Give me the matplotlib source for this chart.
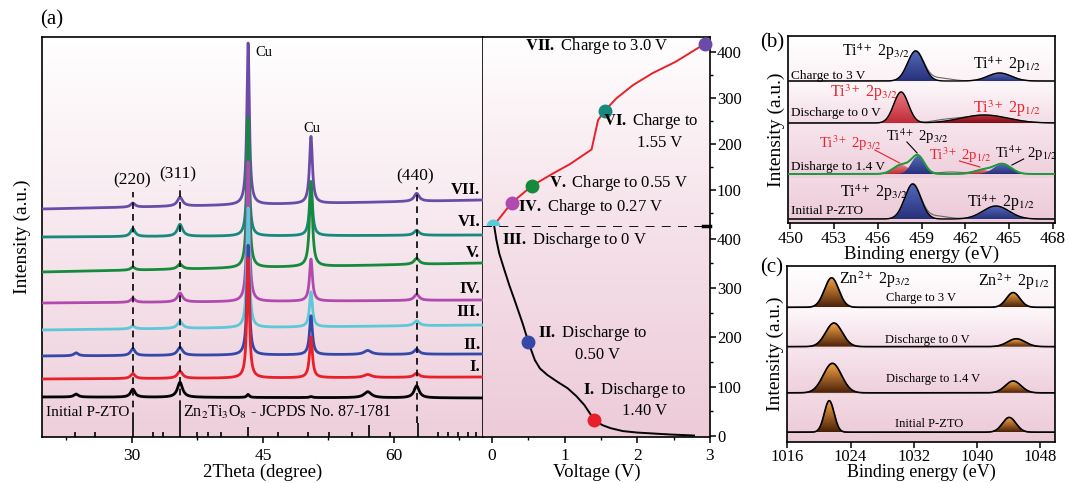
import numpy as np
import matplotlib
matplotlib.use('Agg')
import matplotlib.pyplot as plt
from matplotlib.colors import LinearSegmentedColormap
from matplotlib.ticker import MultipleLocator

plt.rcParams['font.family'] = ['Liberation Serif', 'DejaVu Serif']
plt.rcParams['mathtext.fontset'] = 'stix'

# ---------------- (a) XRD ----------------
xrd_names = ['Initial P-ZTO', 'I.', 'II.', 'III.', 'IV.', 'V.', 'VI.', 'VII.']
xrd_base_left = [40, 58, 81, 107, 134, 165, 200, 228]
xrd_base_right = [39, 60, 83, 112, 137, 174, 202, 237]
xrd_peak_pos = [23.6, 30.1, 35.5, 43.3, 50.5, 57.0, 62.6]
xrd_peak_hwhm = [0.3, 0.3, 0.35, 0.17, 0.2, 0.5, 0.35]
h_init = [3, 8, 15, 3, 1, 6, 12]
h_I = [0, 5, 7, 120, 41, 3, 4]
h_II = [3, 7, 8, 110, 39, 4, 5]
h_III = [0, 3, 7, 120, 35, 0, 5]
h_IV = [0, 4, 9, 140, 42, 0, 6]
h_V = [0, 3, 5, 150, 85, 0, 6]
h_VI = [0, 8, 12, 110, 53, 0, 5]
h_VII = [0, 4, 9, 162, 67, 0, 8]
xrd_heights = [h_init, h_I, h_II, h_III, h_IV, h_V, h_VI, h_VII]
jcpds_pos = [23.5, 25.8, 30.1, 32.4, 33.6, 35.5, 37.5, 38.7, 40.2, 43.3, 46.7,
             50.2, 52.6, 55.2, 57.2, 59.5, 62.7, 65.1, 66.2, 67.3, 68.5, 69.4]
jcpds_int = [5, 5, 18, 5, 5, 30, 5, 5, 5, 10, 5, 5, 5, 5, 12, 5, 14, 5, 5, 5, 5, 5]
hkl_labels = ['(220)', '(311)', '(440)']
hkl_pos = [30.1, 35.5, 62.6]

# ---------------- (a) charge / discharge ----------------
charge_v = [0.02, 0.27, 0.55, 0.84, 1.07, 1.37, 1.42, 1.46, 1.55, 1.71, 1.94, 2.21, 2.53, 2.92]
charge_cap = [22, 72, 109, 136, 156, 188, 224, 252, 272, 299, 328, 354, 379, 417]
discharge_v = [0.03, 0.06, 0.10, 0.17, 0.24, 0.31, 0.42, 0.50, 0.55, 0.59, 0.66, 0.76, 0.90,
               1.04, 1.16, 1.27, 1.41, 1.52, 1.63, 1.80, 2.00, 2.46, 2.78]
discharge_cap = [426, 398, 370, 337, 305, 276, 229, 191, 170, 154, 137, 124, 110,
                 97, 81, 63, 32, 22, 16, 10, 7, 3, 1]
state_v = [1.40, 0.50, 0.02, 0.27, 0.55, 1.55, 2.93]
state_cap = [32, 191, 22, 72, 109, 272, 417]

# ---------------- (b) Ti 2p XPS ----------------
b_names = ['Charge to 3 V', 'Discharge to 0 V', 'Disharge to 1.4 V', 'Initial P-ZTO']
b_base = [142, 100, 49, 4]
b_pos = [[458.6, 464.35], [457.6, 463.3], [457.6, 458.75, 463.2, 464.55], [458.4, 464.1]]
b_h = [[30, 8], [31, 8], [9, 18, 4, 10], [35, 13]]
b_sig = [[0.55, 0.8], [0.5, 1.6], [0.55, 0.45, 0.6, 0.6], [0.55, 0.9]]
b_kind = [['4', '4'], ['3', '3'], ['3', '4', '3', '4'], ['4', '4']]
b_shoulder_pos = [460.2, 460.5, 461.0, 460.0]
b_shoulder_h = [3, 2, 2, 3]

# ---------------- (c) Zn 2p XPS ----------------
c_names = ['Charge to 3 V', 'Discharge to 0 V', 'Discharge to 1.4 V', 'Initial P-ZTO']
c_base = [137, 97, 50, 10]
c_pos32 = [1021.6, 1021.9, 1021.7, 1021.3]
c_h32 = [30, 24, 30, 32]
c_s32 = [0.9, 1.05, 1.15, 0.62]
c_pos12 = [1044.6, 1045.0, 1044.6, 1044.1]
c_h12 = [15, 8, 12, 15]
c_s12 = [0.85, 1.1, 1.0, 0.85]

xrd_colors = ['black', '#e8202a', '#3548a8', '#5cc8d8', '#b04aae', '#168a3c', '#18887e', '#6a4ca8']
state_colors = ['#e8202a', '#3548a8', '#5cc8d8', '#b04aae', '#168a3c', '#18887e', '#6a4ca8']
PINK = '#eecfdc'


def lorentz(x, p, h, w):
    return h * w ** 2 / ((x - p) ** 2 + w ** 2)


def gauss(x, p, h, s):
    return h * np.exp(-0.5 * ((x - p) / s) ** 2)


def vgrad(ax, x0, x1, y0, y1, c_top, c_bot):
    cmap = LinearSegmentedColormap.from_list('bg', [c_bot, c_top])
    ax.imshow(np.linspace(0, 1, 256).reshape(-1, 1), extent=[x0, x1, y0, y1],
              origin='lower', cmap=cmap, aspect='auto', zorder=0)


def grad_fill(ax, x, y, base, c_top, c_bot, z=2):
    poly = ax.fill_between(x, base, y, facecolor='none', edgecolor='none', zorder=z)
    cmap = LinearSegmentedColormap.from_list('pk', [c_bot, c_top])
    im = ax.imshow(np.linspace(0, 1, 256).reshape(-1, 1),
                   extent=[x[0], x[-1], base, y.max()],
                   origin='lower', cmap=cmap, aspect='auto', zorder=z)
    im.set_clip_path(poly.get_paths()[0], transform=ax.transData)


fig = plt.figure(figsize=(10.69, 4.83), dpi=100)
W, H = 1069, 483


def box(x0, y0, x1, y1):
    return [x0 / W, 1 - y1 / H, (x1 - x0) / W, (y1 - y0) / H]


ax_x = fig.add_axes(box(42, 37, 483, 437))
ax_u = fig.add_axes(box(483, 37, 710, 226))
ax_l = fig.add_axes(box(483, 226, 710, 437))
ax_b = fig.add_axes(box(788, 36, 1055, 223))
ax_c = fig.add_axes(box(787, 266, 1055, 442))

for ax in [ax_x, ax_u, ax_l, ax_b, ax_c]:
    for s in ax.spines.values():
        s.set_linewidth(1.2)
    ax.tick_params(which='major', length=4, width=1.1, labelsize=12.5, direction='out')
    ax.tick_params(which='minor', length=2.5, width=1.0, direction='out')

# ---- XRD ----
xl = (19.7, 70.2)
vgrad(ax_x, xl[0], xl[1], 0, 400, 'white', PINK)
tt = np.linspace(xl[0], xl[1], 3000)
for i in reversed(range(len(xrd_names))):
    y = xrd_base_left[i] + (xrd_base_right[i] - xrd_base_left[i]) * (tt - xl[0]) / (xl[1] - xl[0])
    for p, h, w in zip(xrd_peak_pos, xrd_heights[i], xrd_peak_hwhm):
        y = y + lorentz(tt, p, h, w)
    ax_x.plot(tt, y, color=xrd_colors[i], lw=2.0, zorder=3 + len(xrd_names) - i)
ax_x.vlines(jcpds_pos, 0, jcpds_int, color='black', lw=1.2, zorder=12)
ax_x.vlines(hkl_pos, [18, 30, 14], [245, 252, 250], color='black', lw=1.2,
            linestyles=(0, (4, 3)), zorder=13)
for lab, p, yy in zip(hkl_labels, [30.0, 35.2, 62.4], [257, 263, 261]):
    ax_x.text(p, yy, lab, ha='center', va='center', fontsize=12.5, zorder=14)
ax_x.text(44.1, 384, 'Cu', ha='left', va='center', fontsize=10.5, zorder=14)
ax_x.text(49.6, 309, 'Cu', ha='left', va='center', fontsize=10.5, zorder=14)
for lab, yy in zip(xrd_names[1:], [70, 92, 125, 148, 184, 215, 247]):
    ax_x.text(69.9, yy, lab, ha='right', va='center', fontsize=12, fontweight='bold', zorder=14)
ax_x.text(20.2, 25, 'Initial P-ZTO', ha='left', va='center', fontsize=11, zorder=14)
ax_x.text(35.9, 25, 'Zn$_2$Ti$_3$O$_8$ - JCPDS No. 87-1781', ha='left', va='center',
          fontsize=11.5, zorder=14)
ax_x.set_xlim(*xl)
ax_x.set_ylim(0, 400)
ax_x.set_yticks([])
ax_x.set_xticks([30, 45, 60])
ax_x.xaxis.set_minor_locator(MultipleLocator(7.5))
ax_x.tick_params(axis='x', pad=4)
ax_x.set_xlabel('2Theta (degree)', fontsize=13.5, labelpad=0)
ax_x.set_ylabel('Intensity (a.u.)', fontsize=14)
ax_x.yaxis.set_label_coords(-0.025, 0.5)

# ---- charge / discharge ----
vl = (-0.124, 3.0)
uy = (21.7, 432.6)
ly = (-2, 426)
vgrad(ax_u, vl[0], vl[1], uy[0], uy[1], 'white', '#f5e1e9')
vgrad(ax_l, vl[0], vl[1], ly[0], ly[1], '#f5e1e9', '#edcbd9')
ax_u.plot(charge_v, charge_cap, color='#e8202a', lw=1.4, zorder=3)
ax_l.plot(discharge_v, discharge_cap, color='black', lw=1.4, zorder=3)
for k in range(len(state_v)):
    target = ax_l if k < 2 else ax_u
    target.plot(state_v[k], state_cap[k], 'o', ms=9, color=state_colors[k],
                zorder=6, clip_on=False)
ax_l.axhline(ly[1] - 0.5, color='black', lw=1.3, ls=(0, (5, 4)), zorder=4)
ax_l.plot([2.9, 3.0], [ly[1] - 0.5, ly[1] - 0.5], color='black', lw=2.5, zorder=5, clip_on=False)

ann = dict(fontsize=12, va='center', zorder=8)
ax_u.text(0.45, 412, r'$\mathbf{VII.}$ Charge to 3.0 V', ha='left', **ann)
ax_u.text(1.53, 250, r'$\mathbf{VI.}$ Charge to', ha='left', **ann)
ax_u.text(1.99, 202, '1.55 V', ha='left', **ann)
ax_u.text(0.79, 115, r'$\mathbf{V.}$ Charge to 0.55 V', ha='left', **ann)
ax_u.text(0.36, 62, r'$\mathbf{IV.}$ Charge to 0.27 V', ha='left', **ann)
ax_l.text(0.14, 398, r'$\mathbf{III.}$ Discharge to 0 V', ha='left', **ann)
ax_l.text(0.63, 209, r'$\mathbf{II.}$ Discharge to', ha='left', **ann)
ax_l.text(1.14, 165, '0.50 V', ha='left', **ann)
ax_l.text(1.25, 94, r'$\mathbf{I.}$ Discharge to', ha='left', **ann)
ax_l.text(1.79, 51, '1.40 V', ha='left', **ann)

for ax, yl in [(ax_u, uy), (ax_l, ly)]:
    ax.set_xlim(*vl)
    ax.set_ylim(*yl)
    ax.yaxis.tick_right()
    ax.spines['left'].set_visible(False)
    ax.tick_params(axis='y', labelsize=12, pad=1)
    ax.yaxis.set_minor_locator(MultipleLocator(50))
ax_u.spines['bottom'].set_visible(False)
ax_l.spines['top'].set_visible(False)
ax_u.set_xticks([])
ax_u.set_yticks([100, 200, 300, 400])
ax_l.set_yticks([0, 100, 200, 300, 400])
ax_l.set_xticks([0, 1, 2, 3])
ax_l.xaxis.set_minor_locator(MultipleLocator(0.5))
ax_l.tick_params(axis='x', pad=4)
ax_l.set_xlabel('Voltage (V)', fontsize=13.5, labelpad=0)

# ---- (b) ----
bx = (449.85, 468.15)
b_bounds = [187, 140, 99, 45, 0]
b_bg = [('white', '#fbf1f5'), ('#fdf8fa', '#f3dbe5'), ('#f7e5ec', '#eecfdc'), ('#f3dae4', '#ebc9d6')]
for j in range(4):
    vgrad(ax_b, bx[0], bx[1], b_bounds[j + 1], b_bounds[j], *b_bg[j])
eb = np.linspace(bx[0], bx[1], 1500)
for j in range(4):
    base = b_base[j]
    total = np.zeros_like(eb)
    for p, h, s, kd in zip(b_pos[j], b_h[j], b_sig[j], b_kind[j]):
        comp = gauss(eb, p, h, s)
        total += comp
        if kd == '4':
            grad_fill(ax_b, eb, base + comp, base, '#5567b8', '#26317a', z=2)
        elif j == 1 and s > 1:
            grad_fill(ax_b, eb, base + comp, base, '#c43040', '#7a0e16', z=2)
        else:
            grad_fill(ax_b, eb, base + comp, base, '#e77a84', '#c02a36', z=2)
    raw = base + total + gauss(eb, b_shoulder_pos[j], b_shoulder_h[j], 0.8)
    ax_b.plot(eb, raw, color='#666666', lw=0.8, zorder=3)
    if j == 2:
        ax_b.plot(eb, base + total, color='#1e9a3a', lw=1.4, zorder=4)
    else:
        ax_b.plot(eb, base + total, color='black', lw=1.0, zorder=4)
    ax_b.text(450.05, [147, 110, 56, 12][j], b_names[j], ha='left', va='center',
              fontsize=9.5, zorder=6)

t4_32 = 'Ti$^{4+}$ 2p$_{3/2}$'
t4_12 = 'Ti$^{4+}$ 2p$_{1/2}$'
t3_32 = 'Ti$^{3+}$ 2p$_{3/2}$'
t3_12 = 'Ti$^{3+}$ 2p$_{1/2}$'
RED = '#e8202a'
lab = dict(fontsize=11.5, va='center', ha='left', zorder=6)
lab3 = dict(fontsize=10.5, va='center', ha='left', zorder=6)
ax_b.text(453.55, 171, t4_32, **lab)
ax_b.text(462.5, 158, t4_12, **lab)
ax_b.text(452.7, 130, t3_32, color=RED, **lab)
ax_b.text(462.5, 114, t3_12, color=RED, **lab)
ax_b.text(452.0, 80, t3_32, color=RED, **lab3)
ax_b.text(456.6, 87, t4_32, **lab3)
ax_b.text(459.5, 68, t3_12, color=RED, **lab3)
ax_b.text(464.05, 70, t4_12, **lab3)
ax_b.text(453.4, 30, t4_32, **lab)
ax_b.text(462.1, 20, t4_12, **lab)
ax_b.plot([455.8, 457.5], [73, 60], color=RED, lw=0.8, zorder=6)
ax_b.plot([458.0, 458.7], [81, 70], color='black', lw=0.8, zorder=6)
ax_b.plot([461.6, 463.0], [62, 56], color=RED, lw=0.8, zorder=6)
ax_b.plot([466.0, 465.2], [64, 58], color='black', lw=0.8, zorder=6)
ax_b.set_xlim(*bx)
ax_b.set_ylim(0, 187)
ax_b.set_yticks([])
ax_b.set_xticks(np.arange(450, 469, 3))
ax_b.tick_params(axis='x', pad=2)
ax_b.set_xlabel('Binding energy (eV)', fontsize=13.5, labelpad=-1)
ax_b.set_ylabel('Intensity (a.u.)', fontsize=14)
ax_b.yaxis.set_label_coords(-0.012, 0.5)

# ---- (c) ----
cx = (1015.95, 1049.9)
c_bounds = [179, 135, 94, 48, 0]
for j in range(4):
    vgrad(ax_c, cx[0], cx[1], c_bounds[j + 1], c_bounds[j], *b_bg[j])
ec = np.linspace(cx[0], cx[1], 1500)
for j in range(4):
    base = c_base[j]
    p32 = gauss(ec, c_pos32[j], c_h32[j], c_s32[j])
    p12 = gauss(ec, c_pos12[j], c_h12[j], c_s12[j])
    grad_fill(ax_c, ec, base + p32, base, '#f7a445', '#4a2008')
    grad_fill(ax_c, ec, base + p12, base, '#f7a445', '#4a2008')
    ax_c.plot(ec, base + p32 + p12, color='#555555', lw=0.8, zorder=3)
    ax_c.plot(ec, base + p32 + p12, color='black', lw=1.2, zorder=4)
    ax_c.text([1032.9, 1033.7, 1034.5, 1033.9][j], [146, 104, 64, 18][j], c_names[j],
              ha='center', va='center', fontsize=9, zorder=6)
ax_c.text(1022.5, 165, 'Zn$^{2+}$ 2p$_{3/2}$', **lab)
ax_c.text(1040.2, 163, 'Zn$^{2+}$ 2p$_{1/2}$', **lab)
ax_c.set_xlim(*cx)
ax_c.set_ylim(0, 179)
ax_c.set_yticks([])
ax_c.set_xticks([1016, 1024, 1032, 1040, 1048])
ax_c.tick_params(axis='x', pad=1, labelsize=12)
ax_c.set_xlabel('Binding energy (eV)', fontsize=13, labelpad=-1)
ax_c.set_ylabel('Intensity (a.u.)', fontsize=14)
ax_c.yaxis.set_label_coords(-0.012, 0.5)

fig.text(52 / W, 1 - 20 / H, '(a)', ha='center', va='center', fontsize=15)
fig.text(772 / W, 1 - 43 / H, '(b)', ha='center', va='center', fontsize=15)
fig.text(772 / W, 1 - 268 / H, '(c)', ha='center', va='center', fontsize=15)

fig.savefig('out.png', dpi=100)
